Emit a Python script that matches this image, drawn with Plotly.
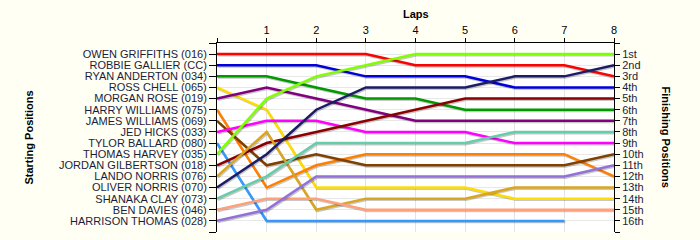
import plotly.graph_objects as go

laps = [0, 1, 2, 3, 4, 5, 6, 7, 8]
lap_labels = ["", "1", "2", "3", "4", "5", "6", "7", "8"]

drivers = [
    "OWEN GRIFFITHS (016)", "ROBBIE GALLIER (CC)", "RYAN ANDERTON (034)", "ROSS CHELL (065)",
    "MORGAN ROSE (019)", "HARRY WILLIAMS (075)", "JAMES WILLIAMS (069)", "JED HICKS (033)",
    "TYLOR BALLARD (080)", "THOMAS HARVEY (035)", "JORDAN GILBERTSON (018)", "LANDO NORRIS (076)",
    "OLIVER NORRIS (070)", "SHANAKA CLAY (073)", "BEN DAVIES (046)", "HARRISON THOMAS (028)",
]

owen_griffiths = [1, 1, 1, 1, 2, 2, 2, 2, 3]
robbie_gallier = [2, 2, 2, 3, 3, 3, 4, 4, 4]
ryan_anderton = [3, 3, 4, 5, 5, 6, 6, 6, 6]
ross_chell = [4, 6, 13, 13, 13, 13, 14, 14, 14]
morgan_rose = [5, 4, 5, 6, 7, 7, 7, 7, 7]
harry_williams = [6, 13, 11, 10, 10, 10, 10, 10, 12]
james_williams = [7, 11, 10, 11, 11, 11, 11, 11, 10]
jed_hicks = [8, 7, 7, 8, 8, 8, 9, 9, 9]
tylor_ballard = [9, 16, 16, 16, 16, 16, 16, 16, None]
thomas_harvey = [10, 5, 3, 2, 1, 1, 1, 1, 1]
jordan_gilbertson = [11, 9, 8, 7, 6, 5, 5, 5, 5]
lando_norris = [12, 8, 15, 14, 14, 14, 13, 13, 13]
oliver_norris = [13, 10, 6, 4, 4, 4, 3, 3, 2]
shanaka_clay = [14, 12, 9, 9, 9, 9, 8, 8, 8]
ben_davies = [15, 14, 14, 15, 15, 15, 15, 15, 15]
harrison_thomas = [16, 15, 12, 12, 12, 12, 12, 12, 11]

series = [
    owen_griffiths, robbie_gallier, ryan_anderton, ross_chell, morgan_rose, harry_williams,
    james_williams, jed_hicks, tylor_ballard, thomas_harvey, jordan_gilbertson, lando_norris,
    oliver_norris, shanaka_clay, ben_davies, harrison_thomas,
]

colors = [
    "#ff0000", "#0000dd", "#009900", "#ffdd00", "#800080", "#ff8000", "#804000", "#ff00ff",
    "#3399ff", "#80ff00", "#8b0000", "#daa520", "#1c1c66", "#66cdaa", "#ffa07a", "#9370db",
]

finish_labels = ["1st", "2nd", "3rd", "4th", "5th", "6th", "7th", "8th", "9th", "10th",
                 "11th", "12th", "13th", "14th", "15th", "16th"]

n = len(drivers)
row_vals = list(range(0, n + 2))
left_text = [""] + drivers + [""]
right_text = [""] + finish_labels + [""]

FONT = "Arial, 'Liberation Sans', sans-serif"
TXT = "#1c1c3c"

fig = go.Figure()
for name, vals, col in zip(drivers, series, colors):
    shadow = [None if v is None else v + 0.11 for v in vals]
    fig.add_trace(go.Scatter(x=[l + 0.02 for l in laps], y=shadow, mode="lines",
                             line=dict(color="rgba(0,0,0,0.22)", width=2.5),
                             hoverinfo="skip", showlegend=False))
    fig.add_trace(go.Scatter(x=laps, y=vals, mode="lines", name=name,
                             line=dict(color=col, width=2.5), showlegend=False))

# invisible trace for the right axis
fig.add_trace(go.Scatter(x=[laps[0]], y=[1], yaxis="y2", mode="markers",
                         marker=dict(opacity=0), hoverinfo="skip", showlegend=False))

fig.update_layout(
    width=700, height=240,
    margin=dict(l=217, r=86, t=43, b=8),
    paper_bgcolor="#fffff3",
    plot_bgcolor="#ffffff",
    font=dict(family=FONT, size=11, color=TXT),
    xaxis=dict(
        side="top", range=[0, 8], tickvals=laps, ticktext=lap_labels,
        showline=True, linecolor="black", linewidth=1,
        ticks="outside", ticklen=4, tickcolor="black",
        showgrid=True, gridcolor="#e4e4e4", gridwidth=1, zeroline=False,
        tickfont=dict(size=11, color="black"),
    ),
    yaxis=dict(
        range=[n + 1, 0], tickvals=row_vals, ticktext=left_text,
        showline=True, linecolor="black", linewidth=1,
        ticks="outside", ticklen=7, tickcolor="black",
        showgrid=True, gridcolor="#e8e8e8", gridwidth=1, zeroline=False,
        tickfont=dict(size=11, color=TXT),
    ),
    yaxis2=dict(
        overlaying="y", side="right", range=[n + 1, 0], tickvals=row_vals, ticktext=right_text,
        showline=True, linecolor="black", linewidth=1,
        ticks="outside", ticklen=5, tickcolor="black",
        showgrid=False, zeroline=False,
        tickfont=dict(size=11, color=TXT),
    ),
    annotations=[
        dict(text="<b>Laps</b>", xref="paper", yref="paper", x=0.5, y=1.153,
             showarrow=False, xanchor="center", yanchor="middle",
             font=dict(size=11, color="black")),
        dict(text="<b>Starting Positions</b>", xref="paper", yref="paper", x=-0.476, y=0.5,
             showarrow=False, textangle=-90, xanchor="center", yanchor="middle",
             font=dict(size=11, color="black")),
        dict(text="<b>Finishing Positions</b>", xref="paper", yref="paper", x=1.1335, y=0.5,
             showarrow=False, textangle=90, xanchor="center", yanchor="middle",
             font=dict(size=11, color="black")),
    ],
)

fig.write_html("out.html")
